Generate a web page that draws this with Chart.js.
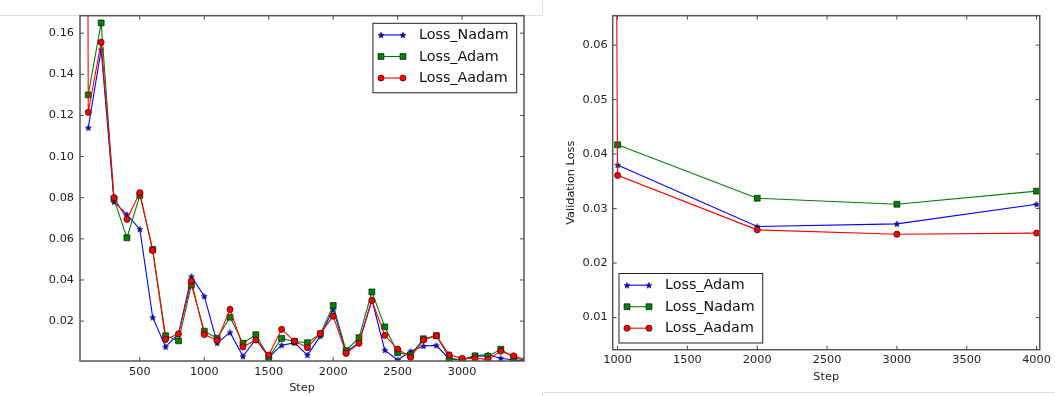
<!DOCTYPE html>
<html>
<head>
<meta charset="utf-8">
<script src="https://cdn.jsdelivr.net/npm/chart.js@4.4.1/dist/chart.umd.min.js"></script>
<style>
  html, body { margin: 0; padding: 0; background: #fff; }
  #wrap { position: relative; width: 1055px; height: 396px; overflow: hidden; background: #fff; }
  #trainChart { position: absolute; left: 0; top: 0; }
  #valChart { position: absolute; left: 540px; top: 0; }
  .edge { position: absolute; border-color: #dedede; border-style: solid; border-width: 0; }
</style>
</head>
<body>
<div id="wrap">
  <div class="edge" style="left:-1px; top:-1px; width:543px; height:16px; border-bottom-width:1px; border-right-width:1px;"></div>
  <div class="edge" style="left:542px; top:392px; width:520px; height:10px; border-top-width:1px; border-left-width:1px;"></div>
  <canvas id="trainChart" width="540" height="396"></canvas>
  <canvas id="valChart" width="515" height="396"></canvas>
</div>
<script>
// ---- training loss (left panel) ----
const trainSteps = [100, 200, 300, 400, 500, 600, 700, 800, 900, 1000,
  1100, 1200, 1300, 1400, 1500, 1600, 1700, 1800, 1900, 2000,
  2100, 2200, 2300, 2400, 2500, 2600, 2700, 2800, 2900, 3000,
  3100, 3200, 3300, 3400, 3500];
const trainNadam = [0.114, 0.152, 0.078, 0.0718, 0.0647, 0.0218, 0.0075, 0.0138, 0.0417, 0.0321,
  0.0093, 0.0145, 0.0029, 0.0112, 0.0025, 0.0083, 0.0094, 0.0035, 0.0127, 0.0257,
  0.0050, 0.0095, 0.0305, 0.0059, 0.0011, 0.0053, 0.0079, 0.0082, 0.0016, 0.0012,
  0.0033, 0.0036, 0.0019, 0.0011, 0.0006];
const trainAdam = [0.130, 0.165, 0.0793, 0.0605, 0.0812, 0.0548, 0.0129, 0.0104, 0.0376, 0.0151,
  0.0117, 0.0219, 0.0092, 0.0134, 0.0024, 0.0116, 0.0101, 0.0095, 0.0138, 0.0276,
  0.0056, 0.0119, 0.0342, 0.0172, 0.0046, 0.0035, 0.0114, 0.0129, 0.0022, 0.0010,
  0.0031, 0.0029, 0.0063, 0.0022, 0.0008];
// Aadam has an extra first point (step 0) far above the visible range
const trainAadamSteps = [0].concat(trainSteps);
const trainAadam = [2.5, 0.1215, 0.1556, 0.080, 0.0695, 0.0825, 0.0543, 0.0111, 0.0138, 0.0396, 0.0135,
  0.0106, 0.0257, 0.0074, 0.0108, 0.0035, 0.0160, 0.0103, 0.0071, 0.0140, 0.0224,
  0.0043, 0.0092, 0.0300, 0.0131, 0.0064, 0.0024, 0.0108, 0.0129, 0.0036, 0.0019,
  0.0019, 0.0014, 0.0054, 0.0031, 0.0010];
const trainXTicks = [500, 1000, 1500, 2000, 2500, 3000];
const trainYTicks = [0.02, 0.04, 0.06, 0.08, 0.10, 0.12, 0.14, 0.16];

// ---- validation loss (right panel) ----
const valSteps = [1000, 2000, 3000, 4000];
const valAdam  = [0.0380, 0.0267, 0.0272, 0.0308];
const valNadam = [0.0417, 0.0319, 0.0308, 0.0332];
const valAadamSteps = [0, 1000, 2000, 3000, 4000];
const valAadam = [5.0, 0.0361, 0.0261, 0.0253, 0.0255];
const valXTicks = [1000, 1500, 2000, 2500, 3000, 3500, 4000];
const valYTicks = [0.01, 0.02, 0.03, 0.04, 0.05, 0.06];

const FONT = "'DejaVu Sans', sans-serif";
const LABEL_SIZE = 11.3;
const BLUE = '#0000ff', GREEN = '#008000', RED = '#ff0000';

// matplotlib style filled 5-point star marker
function makeStar(color) {
  const c = document.createElement('canvas');
  c.width = 8; c.height = 8;
  const g = c.getContext('2d');
  g.beginPath();
  for (let i = 0; i < 10; i++) {
    const r = i % 2 === 0 ? 3.2 : 1.4;
    const a = -Math.PI / 2 + i * Math.PI / 5;
    const px = 4 + r * Math.cos(a), py = 4.3 + r * Math.sin(a);
    i === 0 ? g.moveTo(px, py) : g.lineTo(px, py);
  }
  g.closePath();
  g.fillStyle = color; g.fill();
  g.strokeStyle = '#000'; g.lineWidth = 0.5; g.stroke();
  return c;
}
const STAR = makeStar(BLUE);

function points(xs, ys) { return xs.map((x, i) => ({ x, y: ys[i] })); }

function series(label, xs, ys, color, style, order) {
  const radius = style === 'rect' ? 4.2 : (style === 'circle' ? 3.1 : 3);
  return {
    label, data: points(xs, ys), order,
    borderColor: color, borderWidth: 1.1, tension: 0,
    pointStyle: style === 'star' ? STAR : style,
    pointRadius: radius, pointBackgroundColor: color,
    pointBorderColor: '#000', pointBorderWidth: 0.6
  };
}

/* spines, inward ticks and boxed legend, all from the chart's own scales */
const framePlugin = {
  id: 'frame',
  afterDatasetsDraw(chart, args, opts) {
    const { ctx, chartArea: { left, top, right, bottom }, scales: { x, y } } = chart;
    ctx.save();
    ctx.strokeStyle = '#4a4a4a';
    ctx.lineWidth = 1;
    ctx.beginPath();
    opts.xTicks.forEach(v => {
      const p = x.getPixelForValue(v);
      ctx.moveTo(p, bottom); ctx.lineTo(p, bottom - 4);
      ctx.moveTo(p, top); ctx.lineTo(p, top + 4);
    });
    opts.yTicks.forEach(v => {
      const p = y.getPixelForValue(v);
      ctx.moveTo(left, p); ctx.lineTo(left + 4, p);
      ctx.moveTo(right, p); ctx.lineTo(right - 4, p);
    });
    ctx.stroke();
    ctx.lineWidth = 1.5;
    ctx.strokeStyle = '#555';
    ctx.strokeRect(left, top, right - left, bottom - top);

    // legend
    const ds = opts.legendOrder.map(i => chart.data.datasets[i]);
    ctx.font = '14.3px ' + FONT;
    const textW = Math.max(...ds.map(d => ctx.measureText(d.label).width));
    const rowH = 21.5, sampleW = 22;
    const w = 8 + sampleW + 16 + textW + 8, h = rowH * 3 + 5;
    const bx = opts.corner === 'tr' ? right - 7.3 - w : left + 6.3;
    const by = opts.corner === 'tr' ? top + 7.6 : bottom - 6.7 - h;
    ctx.fillStyle = '#fff';
    ctx.fillRect(bx, by, w, h);
    ctx.lineWidth = 1; ctx.strokeStyle = '#222';
    ctx.strokeRect(bx, by, w, h);
    ds.forEach((d, i) => {
      const cy = by + 11.7 + i * rowH;
      const x0 = bx + 8, x1 = x0 + sampleW;
      ctx.strokeStyle = d.borderColor; ctx.lineWidth = d.borderWidth;
      ctx.beginPath(); ctx.moveTo(x0, cy); ctx.lineTo(x1, cy); ctx.stroke();
      [x0, x1].forEach(px => {
        ctx.fillStyle = d.pointBackgroundColor;
        ctx.strokeStyle = d.pointBorderColor;
        ctx.lineWidth = d.pointBorderWidth;
        Chart.helpers.drawPoint(ctx, {
          pointStyle: d.pointStyle, radius: d.pointRadius, rotation: 0,
          borderWidth: d.pointBorderWidth
        }, px, cy);
      });
      ctx.fillStyle = '#111';
      ctx.textBaseline = 'middle'; ctx.textAlign = 'left';
      ctx.fillText(d.label, x1 + 16, cy + 0.5);
    });
    ctx.restore();
  }
};

function fixedTicks(list) {
  return scale => { scale.ticks = list.map(v => ({ value: v })); };
}

function buildChart(id, cfg) {
  return new Chart(document.getElementById(id), {
    type: 'line',
    data: { datasets: cfg.datasets },
    options: {
      responsive: false,
      animation: false,
      events: [],
      layout: { padding: cfg.padding, autoPadding: false },
      plugins: {
        legend: { display: false },
        tooltip: { enabled: false },
        frame: { xTicks: cfg.xTicks, yTicks: cfg.yTicks, corner: cfg.corner, legendOrder: [0, 1, 2] }
      },
      scales: {
        x: {
          type: 'linear', min: cfg.xMin, max: cfg.xMax,
          grid: { display: false, drawTicks: false },
          border: { display: false },
          afterBuildTicks: fixedTicks(cfg.xTicks),
          afterFit: s => { s.height = cfg.xHeight; },
          ticks: { padding: 4, color: '#222', maxRotation: 0, autoSkip: false,
                   font: { family: FONT, size: LABEL_SIZE }, callback: v => String(v) },
          title: { display: true, text: 'Step', color: '#222',
                   font: { family: FONT, size: LABEL_SIZE }, padding: { top: 0, bottom: cfg.xTitlePad } }
        },
        y: {
          type: 'linear', min: cfg.yMin, max: cfg.yMax,
          grid: { display: false, drawTicks: false },
          border: { display: false },
          afterBuildTicks: fixedTicks(cfg.yTicks),
          afterFit: s => { s.width = cfg.yWidth; },
          ticks: { padding: cfg.yTickPad, color: '#222', autoSkip: false,
                   font: { family: FONT, size: LABEL_SIZE }, callback: v => v.toFixed(2) },
          title: cfg.yTitle
            ? { display: true, text: cfg.yTitle, color: '#222',
                font: { family: FONT, size: LABEL_SIZE }, padding: { top: cfg.yTitlePad, bottom: 0 } }
            : { display: false }
        }
      }
    },
    plugins: [framePlugin]
  });
}

buildChart('trainChart', {
  datasets: [
    series('Loss_Nadam', trainSteps, trainNadam, BLUE, 'star', 3),
    series('Loss_Adam', trainSteps, trainAdam, GREEN, 'rect', 2),
    series('Loss_Aadam', trainAadamSteps, trainAadam, RED, 'circle', 1)
  ],
  xMin: 36, xMax: 3480, yMin: 0.0006, yMax: 0.1685,
  xTicks: trainXTicks, yTicks: trainYTicks,
  padding: { top: 15.7, right: 16, left: 0, bottom: 0 },
  xHeight: 35, yWidth: 80, yTickPad: 6, xTitlePad: 1,
  corner: 'tr'
});

buildChart('valChart', {
  datasets: [
    series('Loss_Adam', valSteps, valAdam, BLUE, 'star', 3),
    series('Loss_Nadam', valSteps, valNadam, GREEN, 'rect', 2),
    series('Loss_Aadam', valAadamSteps, valAadam, RED, 'circle', 1)
  ],
  xMin: 965, xMax: 4023, yMin: 0.0041, yMax: 0.0654,
  xTicks: valXTicks, yTicks: valYTicks,
  padding: { top: 15.7, right: 10, left: 0, bottom: 0 },
  xHeight: 46.3, yWidth: 72.7, yTickPad: 5, xTitlePad: 12,
  yTitle: 'Validation Loss', yTitlePad: 24,
  corner: 'bl'
});
</script>
</body>
</html>
